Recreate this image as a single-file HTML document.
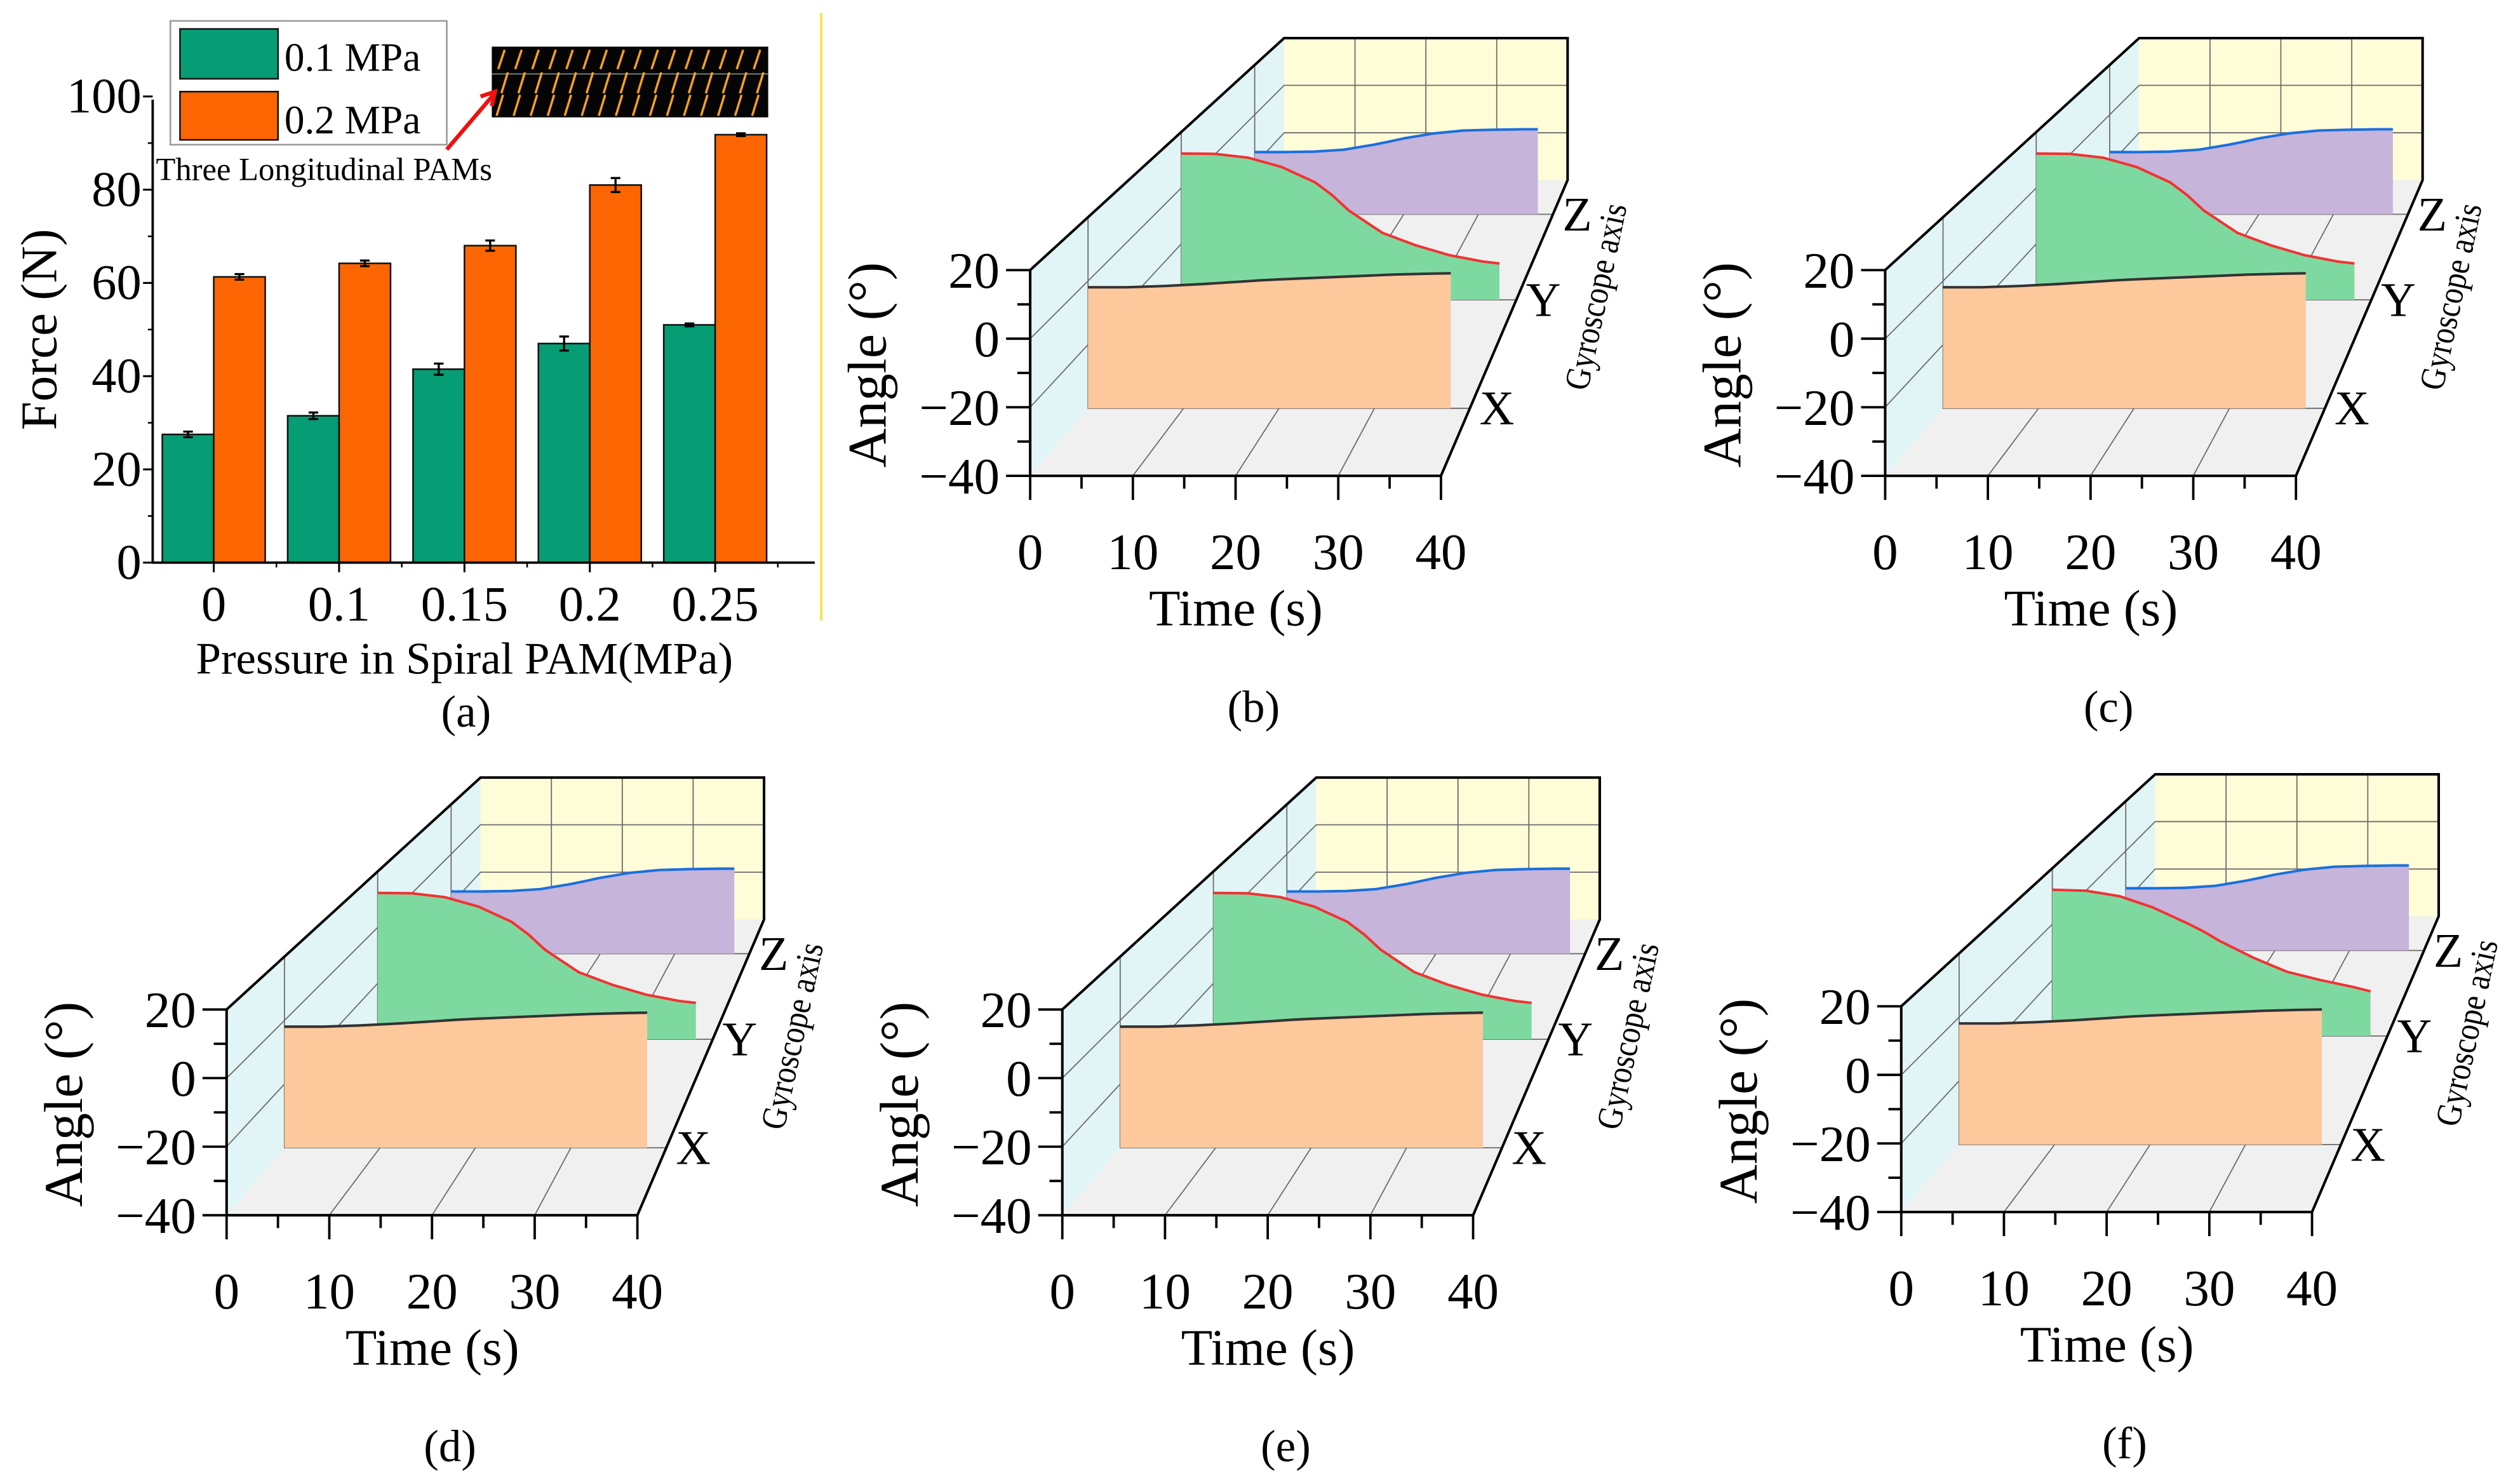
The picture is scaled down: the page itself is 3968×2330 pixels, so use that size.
<!DOCTYPE html>
<html><head><meta charset="utf-8"><style>
html,body{margin:0;padding:0;background:#fff;}
svg{display:block;font-family:"Liberation Serif","Times New Roman",serif;}
svg text{font-family:"Liberation Serif","Times New Roman",serif;fill:#000;}
</style></head><body>
<svg id="fig" width="3968" height="2330" viewBox="0 0 1568 920.7" font-family="Liberation Serif, serif" xmlns="http://www.w3.org/2000/svg">
<g id="pa"></g>
<g id="p3d"></g>
</svg>
<script>
// ---------- Panel (a) data ----------
const categories = ["0","0.1","0.15","0.2","0.25"];
const force01 = [27.5, 31.5, 41.5, 47, 51];
const force02 = [61.3, 64.2, 68, 81, 91.8];
const err01 = [0.6, 0.7, 1.2, 1.5, 0.3];
const err02 = [0.6, 0.6, 1.1, 1.5, 0.3];
const yTicksA = [0,20,40,60,80,100];

// ---------- 3D panels data ----------
const timeS = [0,4,8,12,16,18,20,24,28,32,36,38];
const angleX = [-2,-2,-1.6,-1,-0.2,0.2,0.5,1,1.5,2,2.3,2.4];
const angleY = [12.3,12.2,10.8,7.5,2,-2.5,-8,-16,-20.5,-24,-26.3,-27];
const angleYf = [12.3,12,10,6,0.5,-2.5,-6,-12,-17,-20,-22.5,-24];
const angleZ = [-15,-15,-14.8,-14,-12,-10.8,-9.5,-7.5,-6.3,-6,-5.8,-5.8];
const angleTicks = [-40,-20,0,20];
const timeTicks = [0,10,20,30,40];
const gyroAxes = ["X","Y","Z"];
const gyroDepth = [0.228, 0.595, 0.884];
const panels = [
 {label:"(b)", dx:0, dy:0, y:angleY},
 {label:"(c)", dx:532, dy:0, y:angleY},
 {label:"(d)", dx:-500, dy:460, y:angleY},
 {label:"(e)", dx:20, dy:460, y:angleY},
 {label:"(f)", dx:542, dy:458, y:angleYf}
];

const NS="http://www.w3.org/2000/svg";
const FF='Liberation Serif, Times New Roman, serif';
function mk(parent, tag, attrs, txt){
  const e=document.createElementNS(NS,tag);
  for(const k in attrs) e.setAttribute(k,attrs[k]);
  if(tag==='text') e.setAttribute('font-family',FF);
  if(txt!==undefined) e.textContent=txt;
  parent.appendChild(e); return e;
}

// ---------- draw panel (a) ----------
(function(){
  const g=document.getElementById('pa');
  const x0=95, yb=350, ppu=2.9;
  const yA=v=>yb-v*ppu;
  const cx=i=>133+i*78;
  const yl=mk(g,'line',{x1:511,y1:8,x2:511,y2:386,stroke:'#f2e34c','stroke-width':1.5});
  
  
  for(let i=0;i<categories.length;i++){
    const b1=mk(g,'rect',{x:cx(i)-32,y:yA(force01[i]),width:32,height:force01[i]*ppu,fill:'#069c74',stroke:'#111','stroke-width':1});
    
    
    const b2=mk(g,'rect',{x:cx(i),y:yA(force02[i]),width:32,height:force02[i]*ppu,fill:'#fb6602',stroke:'#111','stroke-width':1});
    
    
    [[cx(i)-16,force01[i],err01[i]],[cx(i)+16,force02[i],err02[i]]].forEach(([ex,v,e])=>{
      const eb=mk(g,'path',{d:`M${ex},${yA(v+e)}V${yA(v-e)}M${ex-3},${yA(v+e)}h6M${ex-3},${yA(v-e)}h6`,stroke:'#000','stroke-width':1.3,fill:'none'});
      
      
    });
    mk(g,'line',{x1:cx(i),y1:yb,x2:cx(i),y2:yb+6,stroke:'#000','stroke-width':1.2});
    mk(g,'line',{x1:cx(i)+39,y1:yb,x2:cx(i)+39,y2:yb+3,stroke:'#000','stroke-width':1});
    const t=mk(g,'text',{x:cx(i),y:386,'font-size':31,'text-anchor':'middle'},categories[i]);
    
    
  }
  const ax=mk(g,'path',{d:`M${x0},62V${yb}H507`,stroke:'#000','stroke-width':1.5,fill:'none'});
  
  
  for(const v of yTicksA){
    mk(g,'line',{x1:x0-6,y1:yA(v),x2:x0,y2:yA(v),stroke:'#000','stroke-width':1.2});
    if(v<100) mk(g,'line',{x1:x0-3,y1:yA(v+10),x2:x0,y2:yA(v+10),stroke:'#000','stroke-width':1});
    const t=mk(g,'text',{x:x0-7,y:yA(v)+10,'font-size':31,'text-anchor':'end'},String(v));
    
    
  }
  const yt=mk(g,'text',{x:0,y:0,'font-size':32,'text-anchor':'middle',transform:'translate(35,205) rotate(-90)'},'Force (N)');
  
  
  const xt=mk(g,'text',{x:289,y:419,'font-size':28,'text-anchor':'middle'},'Pressure in Spiral PAM(MPa)');
  
  
  const pl=mk(g,'text',{x:290,y:452,'font-size':28,'text-anchor':'middle'},'(a)');
  
  
  const lg=mk(g,'g',{});
  
  
  mk(lg,'rect',{x:106,y:13,width:172,height:77,fill:'#fff',stroke:'#999','stroke-width':1});
  mk(lg,'rect',{x:112,y:18,width:61,height:31,fill:'#069c74',stroke:'#111','stroke-width':1});
  mk(lg,'rect',{x:112,y:57,width:61,height:30,fill:'#fb6602',stroke:'#111','stroke-width':1});
  const l1=mk(lg,'text',{x:177,y:44,'font-size':25},'0.1 MPa');
  
  
  const l2=mk(lg,'text',{x:177,y:83,'font-size':25},'0.2 MPa');
  
  
  const ins=mk(g,'g',{});
  
  
  mk(ins,'rect',{x:306,y:29,width:172,height:44,fill:'#050505'});
  mk(ins,'line',{x1:306,y1:46,x2:478,y2:46,stroke:'#8a9a9a','stroke-width':0.6});
  let d='';
  for(let k=0;k<16;k++){const x=310+k*10.6; d+=`M${x},43l4,-12M${x+2},58l4,-13M${x-1},72l4,-13`;}
  mk(ins,'path',{d:d,stroke:'#f7a21b','stroke-width':1.4,fill:'none'});
  const ar=mk(g,'path',{d:'M278,93L307,59M299,60l9,-3l-2,9',stroke:'#f01010','stroke-width':2.5,fill:'none'});
  
  
  const at=mk(g,'text',{x:97,y:112,'font-size':20},'Three Longitudinal PAMs');
  
  
})();

// ---------- draw 3D panels ----------
(function(){
  const root=document.getElementById('p3d');
  function P(t,a,g,ox,oy){
    const s=1-0.31*g;
    return [ox+641+158*g+t*6.39*s, oy+296-184*g-(a+40)*2.133*s];
  }
  panels.forEach(pn=>{
    const ox=pn.dx, oy=pn.dy;
    const g=mk(root,'g',{});
    
    
    const pt=(t,a,d)=>P(t,a,d,ox,oy).map(v=>v.toFixed(1)).join(',');
    const lw=mk(g,'polygon',{points:[pt(0,20,0),pt(0,-40,0),pt(0,-40,1),pt(0,20,1)].join(' '),fill:'#e2f5f6'});
    
    
    const fl=mk(g,'polygon',{points:[pt(0,-40,0),pt(40,-40,0),pt(40,-40,1),pt(0,-40,1)].join(' '),fill:'#f0f0f0'});
    
    
    const bw=mk(g,'polygon',{points:[pt(0,20,1),pt(40,20,1),pt(40,-40,1),pt(0,-40,1)].join(' '),fill:'#fffcd8'});
    
    
    let gd='';
    for(const a of [-20,0]){gd+=`M${pt(0,a,0)}L${pt(0,a,1)}L${pt(40,a,1)}`;}
    for(const t of [10,20,30]){gd+=`M${pt(t,-40,0)}L${pt(t,-40,1)}L${pt(t,20,1)}`;}
    for(const dd of gyroDepth){gd+=`M${pt(0,20,dd)}L${pt(0,-40,dd)}L${pt(40,-40,dd)}`;}
    mk(g,'path',{d:gd,stroke:'#6a6a6a','stroke-width':0.7,fill:'none'});
    const series=[[angleZ,2,'#c6b4da','#1a6fe0'],[pn.y,1,'#7ed9a0','#f23232'],[angleX,0,'#fdc89c','#333']];
    series.forEach(([vals,ai,fill,lc])=>{
      const dep=gyroDepth[ai];
      const top=timeS.map((t,i)=>pt(t,vals[i],dep));
      const poly=top.concat([pt(timeS[timeS.length-1],-40,dep),pt(timeS[0],-40,dep)]);
      const r=mk(g,'polygon',{points:poly.join(' '),fill:fill});
      
      
      const l=mk(g,'polyline',{points:top.join(' '),fill:'none',stroke:lc,'stroke-width':1.6,'stroke-linejoin':'round'});
      
      
    });
    const fr=mk(g,'path',{d:`M${pt(0,-40,0)}L${pt(0,20,0)}L${pt(0,20,1)}L${pt(40,20,1)}L${pt(40,-40,1)}L${pt(40,-40,0)}L${pt(0,-40,0)}`,stroke:'#000','stroke-width':1.6,fill:'none'});
    
    
    for(const a of angleTicks){
      const [x,y]=P(0,a,0,ox,oy);
      mk(g,'line',{x1:x-15,y1:y,x2:x,y2:y,stroke:'#000','stroke-width':1.5});
      if(a<20){const [x2,y2]=P(0,a+10,0,ox,oy);mk(g,'line',{x1:x2-8,y1:y2,x2:x2,y2:y2,stroke:'#000','stroke-width':1.5});}
      const tt=mk(g,'text',{x:x-19,y:y+11,'font-size':32,'text-anchor':'end'},(a<0?'\u2212':'')+Math.abs(a));
      
      
    }
    for(const t of timeTicks){
      const [x,y]=P(t,-40,0,ox,oy);
      mk(g,'line',{x1:x,y1:y,x2:x,y2:y+15,stroke:'#000','stroke-width':1.5});
      if(t<40){const [x2,y2]=P(t+5,-40,0,ox,oy);mk(g,'line',{x1:x2,y1:y2,x2:x2,y2:y2+8,stroke:'#000','stroke-width':1.5});}
      const tt=mk(g,'text',{x:x,y:y+58,'font-size':32,'text-anchor':'middle'},String(t));
      
      
    }
    gyroAxes.forEach((n,i)=>{
      const [x,y]=P(40,-40,gyroDepth[i],ox,oy);
      const tt=mk(g,'text',{x:x+6,y:y+10,'font-size':30},n);
      
      
    });
    const ga=mk(g,'text',{x:0,y:0,'font-size':22,'text-anchor':'middle',textLength:118,lengthAdjust:'spacingAndGlyphs',transform:`translate(${ox+1000},${oy+186}) rotate(-78)`},'Gyroscope axis');
    
    
    const at=mk(g,'text',{x:0,y:0,'font-size':34,'text-anchor':'middle',transform:`translate(${ox+551},${oy+227}) rotate(-90)`},'Angle (°)');
    
    
    const tt=mk(g,'text',{x:ox+769,y:oy+389,'font-size':32,'text-anchor':'middle'},'Time (s)');
    
    
    const pl=mk(g,'text',{x:ox+780,y:oy+449,'font-size':28,'text-anchor':'middle'},pn.label);
    
    
  });
})();
</script>
</body></html>
